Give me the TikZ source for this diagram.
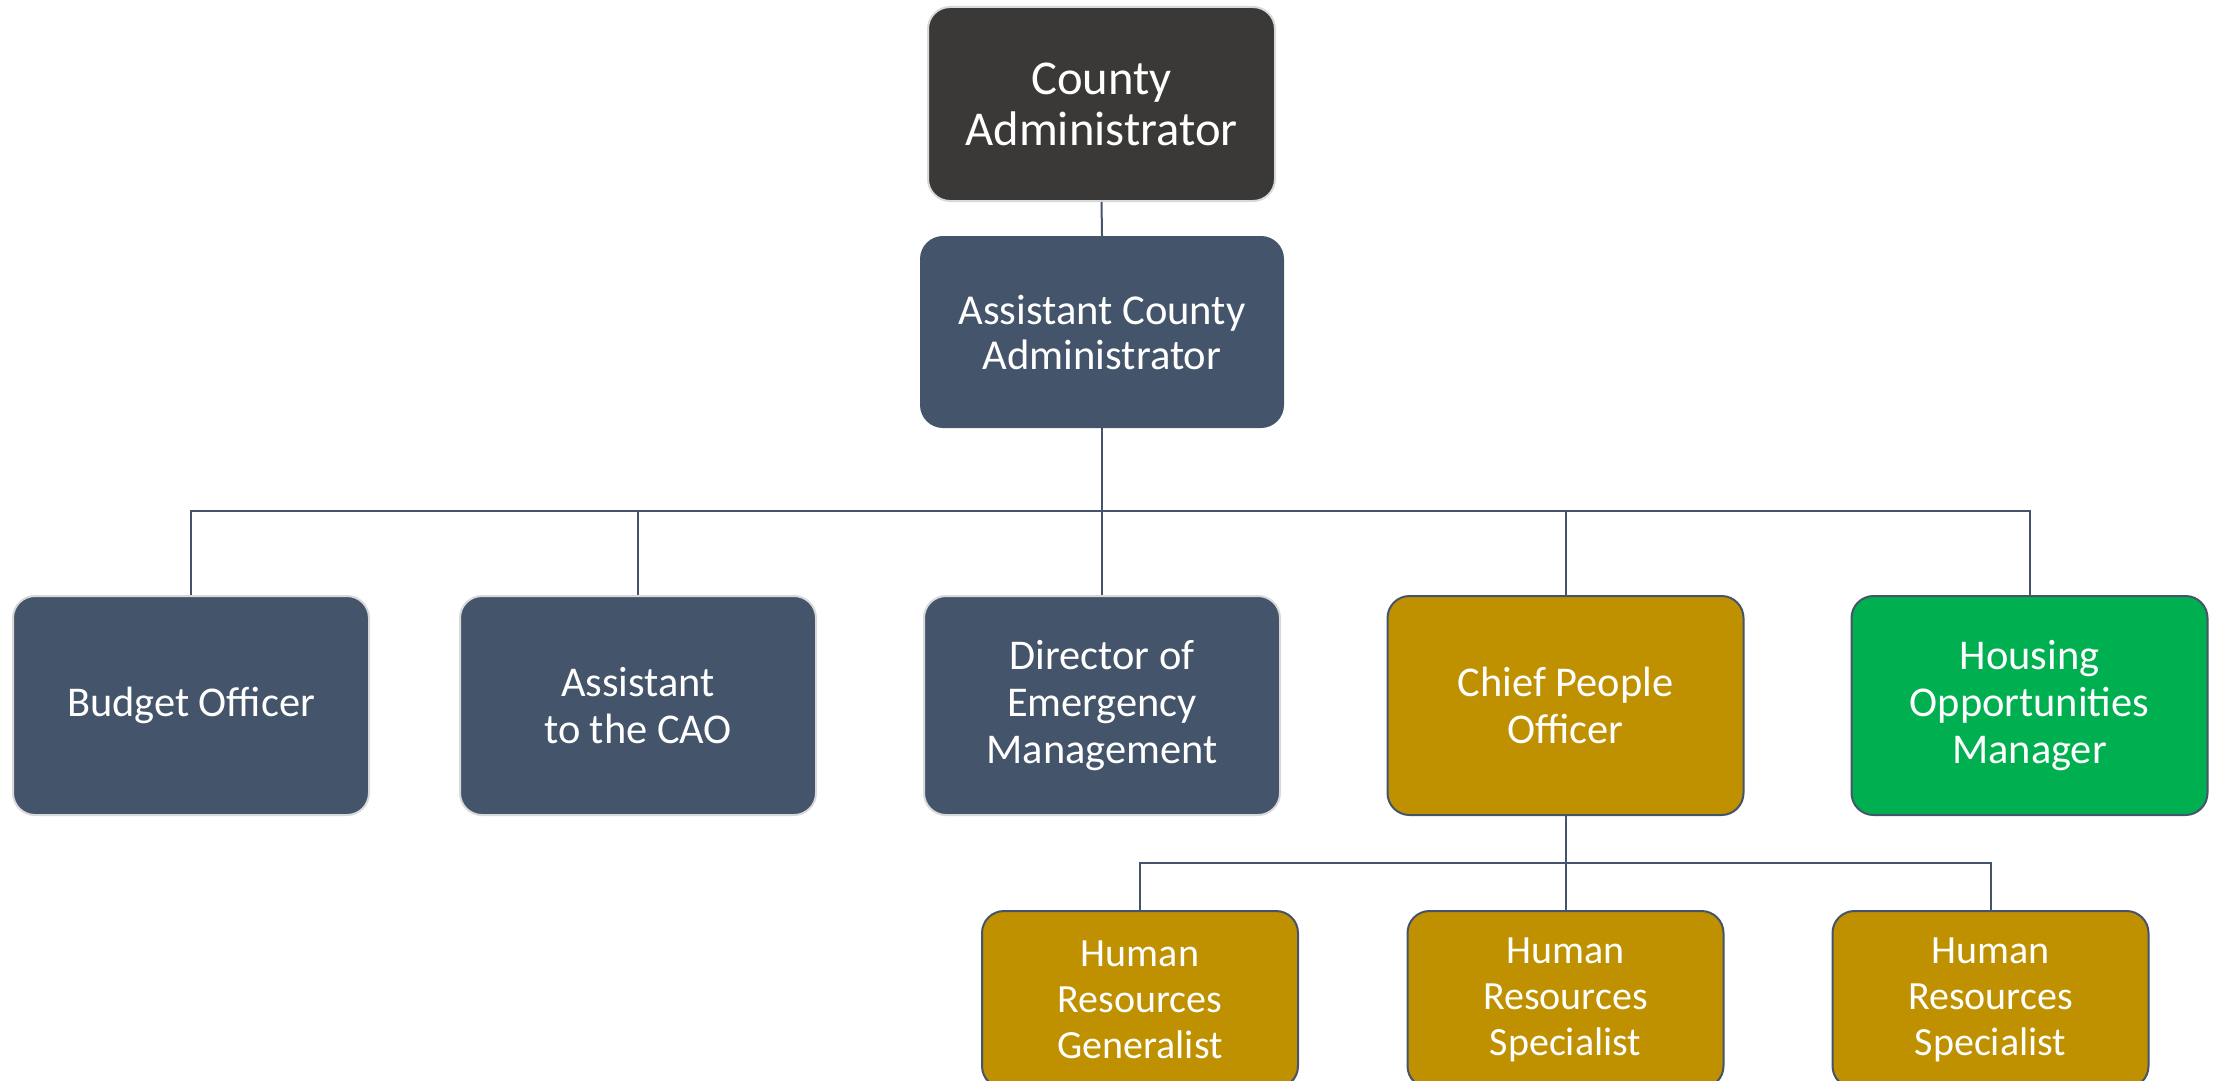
\documentclass[tikz,border=0pt]{standalone}
\usepackage{fontspec}
\setmainfont{Carlito}
\definecolor{slate}{HTML}{44546A}
\definecolor{darkbox}{HTML}{3A3937}
\definecolor{goldbox}{HTML}{BF9000}
\definecolor{greenbox}{HTML}{00B050}
\definecolor{lightedge}{HTML}{D9D9D9}
\begin{document}
\begin{tikzpicture}[x=0.5pt,y=-0.5pt,
  box/.style={rectangle,rounded corners=11pt,inner sep=0pt,align=center,text=white,line width=1pt},
  topbox/.style={box,fill=darkbox,draw=lightedge,minimum width=173.5pt,minimum height=97pt,font=\fontsize{24.3}{25.5}\selectfont},
  secbox/.style={box,fill=slate,draw=slate,minimum width=181pt,minimum height=95pt,font=\fontsize{21.3}{22.5}\selectfont},
  midbox/.style={box,minimum width=178pt,minimum height=109.5pt,font=\fontsize{21.2}{23.7}\selectfont},
  bluebox/.style={midbox,fill=slate,draw=lightedge},
  goldmid/.style={midbox,fill=goldbox,draw=slate},
  greenmid/.style={midbox,fill=greenbox,draw=slate},
  hrbox/.style={box,fill=goldbox,draw=slate,minimum width=158pt,minimum height=88.5pt,font=\fontsize{20}{23}\selectfont},
  conn/.style={draw=slate,line width=1pt}]
\useasboundingbox (0,0) rectangle (2221,1081);
\node[topbox] (ca) at (1101.5,104) {County\\Administrator};
\node[secbox] (aca) at (1102,332) {Assistant County\\Administrator};
\node[bluebox] (bo) at (191,705.5) {Budget Officer};
\node[bluebox] (acao) at (638,705.5) {Assistant\\to the CAO};
\node[bluebox] (dem) at (1102,705.5) {Director of\\Emergency\\Management};
\node[goldmid] (cpo) at (1565.5,705.5) {Chief People\\Officer};
\node[greenmid] (hom) at (2029.5,705.5) {Housing\\Opportunities\\Manager};
\node[hrbox] (hr1) at (1140,999.5) {Human\\Resources\\Generalist};
\node[hrbox] (hr2) at (1565.5,999.5) {Human\\Resources\\Specialist};
\node[hrbox] (hr3) at (1990.5,999.5) {Human\\Resources\\Specialist};
\coordinate (bar) at (0,511);
\coordinate (hrbar) at (0,863);
\draw[conn] (ca.south) -- (aca.north);
\draw[conn,line width=1.4pt] (aca.south) -- (dem.north);
\draw[conn] (bo.north) -- (bo.north |- bar) -- (hom.north |- bar) -- (hom.north);
\draw[conn] (acao.north |- bar) -- (acao.north);
\draw[conn] (cpo.north |- bar) -- (cpo.north);
\draw[conn] (cpo.south) -- (hr2.north);
\draw[conn] (hr1.north) -- (hr1.north |- hrbar) -- (hr3.north |- hrbar) -- (hr3.north);
\end{tikzpicture}
\end{document}
